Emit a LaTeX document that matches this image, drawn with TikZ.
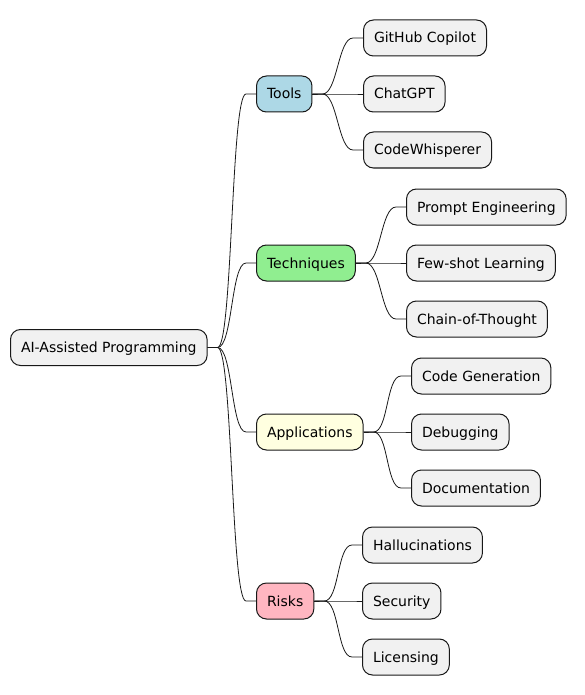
\documentclass[tikz,border=0pt]{standalone}
\usepackage{fontspec}
\setmainfont{DejaVu Sans}
\usepackage{tikz}
\definecolor{boxgray}{HTML}{F1F1F1}
\definecolor{edge}{HTML}{181818}
\definecolor{toolblue}{HTML}{ADD8E6}
\definecolor{techgreen}{HTML}{90EE90}
\definecolor{appyellow}{HTML}{FFFFE0}
\definecolor{riskpink}{HTML}{FFB6C1}

\tikzset{
  idea/.style={draw=edge, line width=1pt, fill=boxgray, rounded corners=10pt,
    anchor=west, inner xsep=10.5pt, minimum height=36pt,
    text height=11pt, text depth=1pt,
    font=\fontsize{14}{16}\selectfont},
  link/.style={draw=edge, line width=0.8pt}
}
\newcommand{\mmlink}[2]{%
  \draw[link] (#1.east) -- ([xshift=10pt]#1.east)
    .. controls ([xshift=25pt]#1.east) and ([xshift=-25pt]#2.west)
    .. ([xshift=-10pt]#2.west) -- (#2.west);}

\begin{document}
\begin{tikzpicture}[x=1pt,y=-1pt]
\useasboundingbox (0,0) rectangle (585,695);

\node[idea] (root) at (10,347.5) {AI-Assisted Programming};

\node[idea, fill=toolblue] (tools) at (256,94) {Tools};
\node[idea, fill=techgreen] (tech) at (256,263) {Techniques};
\node[idea, fill=appyellow] (apps) at (256,432) {Applications};
\node[idea, fill=riskpink] (risks) at (256,601) {Risks};

\node[idea] (copilot) at (363,38) {GitHub Copilot};
\node[idea] (chatgpt) at (363,94) {ChatGPT};
\node[idea] (whisperer) at (363,150) {CodeWhisperer};

\node[idea] (prompt) at (406,207) {Prompt Engineering};
\node[idea] (fewshot) at (406,263) {Few-shot Learning};
\node[idea] (chain) at (406,319) {Chain-of-Thought};

\node[idea] (codegen) at (411,376) {Code Generation};
\node[idea] (debug) at (411,432) {Debugging};
\node[idea] (docs) at (411,488) {Documentation};

\node[idea] (halluc) at (362,545) {Hallucinations};
\node[idea] (security) at (362,601) {Security};
\node[idea] (license) at (362,657) {Licensing};

\foreach \c in {tools,tech,apps,risks} {\mmlink{root}{\c}}
\foreach \c in {copilot,chatgpt,whisperer} {\mmlink{tools}{\c}}
\foreach \c in {prompt,fewshot,chain} {\mmlink{tech}{\c}}
\foreach \c in {codegen,debug,docs} {\mmlink{apps}{\c}}
\foreach \c in {halluc,security,license} {\mmlink{risks}{\c}}
\end{tikzpicture}
\end{document}
